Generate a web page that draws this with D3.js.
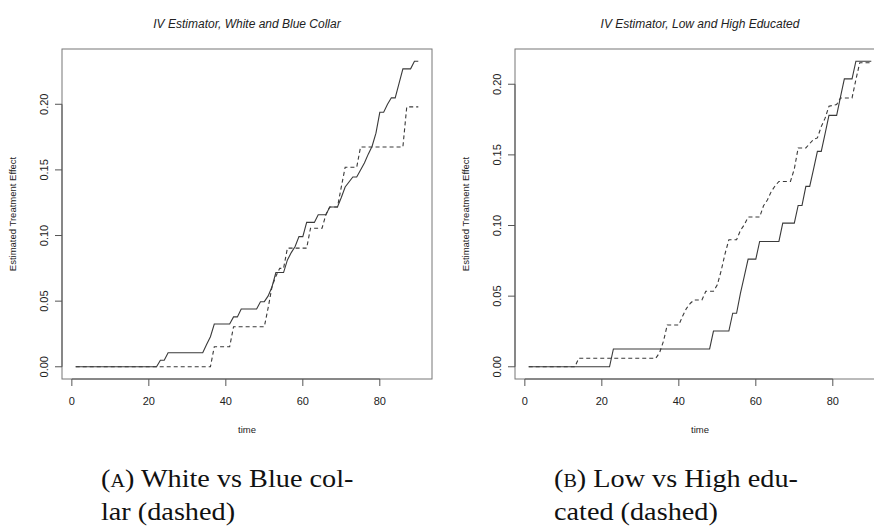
<!DOCTYPE html>
<html>
<head>
<meta charset="utf-8">
<script src="https://cdn.jsdelivr.net/npm/d3@7"></script>
<style>
  html, body { margin: 0; padding: 0; background: #fff; }
  svg { display: block; }
  .ttl { font-family: "Liberation Sans", Arial, sans-serif; font-style: italic; font-size: 12px; fill: #222; }
  .tick-lbl { font-family: "Liberation Sans", Arial, sans-serif; font-size: 11px; fill: #222; }
  .ax-lbl { font-family: "Liberation Sans", Arial, sans-serif; font-size: 9.5px; fill: #222; }
  .cap { font-family: "Liberation Serif", "Times New Roman", serif; font-size: 25px; fill: #111; }
</style>
</head>
<body>
<div id="chart"></div>
<script>
// panel A: white collar (solid) vs blue collar (dashed)
const whiteT = [1, 22, 23, 24, 25, 34, 35, 36, 37, 41, 42, 43, 44, 48, 49, 50, 51, 52, 53, 55, 56, 57, 58, 59, 60, 61, 63, 64, 66, 67, 69, 70, 71, 73, 74, 75, 76, 77, 78, 79, 80, 81, 82, 83, 84, 85, 86, 88, 89, 90];
const whiteV = [0, 0, 0.005, 0.005, 0.0107, 0.0107, 0.017, 0.0229, 0.0326, 0.0326, 0.038, 0.038, 0.044, 0.044, 0.0496, 0.0496, 0.054, 0.061, 0.0718, 0.0718, 0.0814, 0.087, 0.0916, 0.0992, 0.0992, 0.110, 0.110, 0.1158, 0.1158, 0.1217, 0.1217, 0.129, 0.137, 0.1446, 0.1446, 0.150, 0.1553, 0.162, 0.168, 0.178, 0.1939, 0.1939, 0.200, 0.2049, 0.2049, 0.216, 0.227, 0.227, 0.2328, 0.2328];
const blueT = [1, 36, 37, 41, 42, 50, 51, 52, 53, 54, 55, 56, 61, 62, 65, 66, 67, 69, 70, 71, 74, 75, 86, 87, 90];
const blueV = [0, 0, 0.0153, 0.0153, 0.0305, 0.0305, 0.045, 0.061, 0.069, 0.075, 0.075, 0.0904, 0.0904, 0.1056, 0.1056, 0.116, 0.1217, 0.1217, 0.137, 0.152, 0.152, 0.1675, 0.1675, 0.198, 0.198];

// panel B: low educated (solid) vs high educated (dashed)
const lowT = [1, 22, 23, 48, 49, 53, 54, 55, 56, 57, 58, 60, 61, 66, 67, 70, 71, 72, 73, 74, 75, 76, 77, 78, 79, 81, 82, 83, 85, 86, 90];
const lowV = [0, 0, 0.0126, 0.0126, 0.0253, 0.0253, 0.0379, 0.0379, 0.052, 0.064, 0.0762, 0.0762, 0.0887, 0.0887, 0.1017, 0.1017, 0.1142, 0.1142, 0.1277, 0.1277, 0.14, 0.1525, 0.1525, 0.165, 0.178, 0.178, 0.191, 0.2038, 0.2038, 0.2163, 0.2163];
const highT = [1, 13, 14, 34, 35, 36, 37, 40, 41, 42, 43, 44, 46, 47, 49, 50, 51, 52, 53, 55, 56, 57, 58, 61, 62, 63, 64, 65, 66, 69, 70, 71, 73, 74, 75, 76, 77, 78, 79, 81, 82, 85, 86, 87, 90];
const highV = [0, 0, 0.006, 0.006, 0.010, 0.018, 0.0296, 0.0296, 0.036, 0.0414, 0.045, 0.0473, 0.0473, 0.0535, 0.0535, 0.058, 0.068, 0.080, 0.0899, 0.0899, 0.0965, 0.1005, 0.106, 0.106, 0.114, 0.118, 0.124, 0.128, 0.1312, 0.1312, 0.140, 0.1549, 0.1549, 0.158, 0.161, 0.162, 0.170, 0.176, 0.1844, 0.1856, 0.1903, 0.1903, 0.2033, 0.2152, 0.2152];

const xTicks = [0, 20, 40, 60, 80];
const yTicks = [0, 0.05, 0.10, 0.15, 0.20];

const panels = [
  { title: "IV Estimator, White and Blue Collar", left: 62, solid: [whiteT, whiteV], dashed: [blueT, blueV],
    cap: ["A", ") White vs Blue col-", "lar (dashed)"], capX: 101 },
  { title: "IV Estimator, Low and High Educated", left: 515, solid: [lowT, lowV], dashed: [highT, highV],
    cap: ["B", ") Low vs High edu-", "cated (dashed)"], capX: 554 },
];

const W = 874, H = 526;
const svg = d3.select("#chart").append("svg").attr("width", W).attr("height", H);

const boxW = 370, plotTop = 49, plotBottom = 379;

panels.forEach((p) => {
  const allV = p.solid[1].concat(p.dashed[1]);
  const vMax = d3.max(allV);
  // R-style 4% padding on both axes
  const x = d3.scaleLinear().domain([1 - 0.04 * 89, 90 + 0.04 * 89]).range([p.left, p.left + boxW]);
  const y = d3.scaleLinear().domain([-0.04 * vMax, vMax * 1.04]).range([plotBottom, plotTop]);
  const g = svg.append("g");

  const line = d3.line().x((d) => x(d[0])).y((d) => y(d[1]));
  const pairs = (s) => s[0].map((t, i) => [t, s[1][i]]);

  g.append("path").attr("d", line(pairs(p.solid)))
    .attr("fill", "none").attr("stroke", "#3a3a3a").attr("stroke-width", 1.1);
  g.append("path").attr("d", line(pairs(p.dashed)))
    .attr("fill", "none").attr("stroke", "#3a3a3a").attr("stroke-width", 1.1)
    .attr("stroke-dasharray", "4,3");

  // box
  g.append("rect").attr("x", p.left).attr("y", plotTop).attr("width", boxW).attr("height", plotBottom - plotTop)
    .attr("fill", "none").attr("stroke", "#777").attr("stroke-width", 1);

  // x axis
  g.append("line").attr("x1", x(xTicks[0])).attr("x2", x(xTicks[xTicks.length - 1]))
    .attr("y1", plotBottom).attr("y2", plotBottom).attr("stroke", "#555");
  g.selectAll("line.xt").data(xTicks).enter().append("line")
    .attr("x1", (d) => x(d)).attr("x2", (d) => x(d))
    .attr("y1", plotBottom).attr("y2", plotBottom + 7).attr("stroke", "#555");
  g.selectAll("text.xt").data(xTicks).enter().append("text")
    .attr("class", "tick-lbl").attr("x", (d) => x(d)).attr("y", plotBottom + 26)
    .attr("text-anchor", "middle").text((d) => d);

  // y axis
  g.append("line").attr("x1", p.left).attr("x2", p.left)
    .attr("y1", y(yTicks[0])).attr("y2", y(yTicks[yTicks.length - 1])).attr("stroke", "#555");
  g.selectAll("line.yt").data(yTicks).enter().append("line")
    .attr("x1", p.left - 7).attr("x2", p.left)
    .attr("y1", (d) => y(d)).attr("y2", (d) => y(d)).attr("stroke", "#555");
  g.selectAll("text.yt").data(yTicks).enter().append("text")
    .attr("class", "tick-lbl")
    .attr("transform", (d) => `translate(${p.left - 14},${y(d)}) rotate(-90)`)
    .attr("text-anchor", "middle").text(d3.format(".2f"));

  // labels
  const cx = p.left + boxW / 2;
  g.append("text").attr("class", "ttl").attr("x", cx).attr("y", 28)
    .attr("text-anchor", "middle").text(p.title);
  g.append("text").attr("class", "ax-lbl").attr("x", cx).attr("y", 433)
    .attr("text-anchor", "middle").text("time");
  g.append("text").attr("class", "ax-lbl")
    .attr("transform", `translate(${p.left - 46},${(plotTop + plotBottom) / 2}) rotate(-90)`)
    .attr("text-anchor", "middle").text("Estimated Treatment Effect");

  // caption below the panel; widened a bit to get closer to the Palatino proportions
  const c1 = g.append("text").attr("class", "cap")
    .attr("transform", `translate(${p.capX},487) scale(1.13,1)`);
  c1.append("tspan").text("(");
  c1.append("tspan").style("font-variant", "small-caps").text(p.cap[0].toLowerCase());
  c1.append("tspan").text(p.cap[1]);
  g.append("text").attr("class", "cap")
    .attr("transform", `translate(${p.capX},520) scale(1.13,1)`).text(p.cap[2]);
});
</script>
</body>
</html>
